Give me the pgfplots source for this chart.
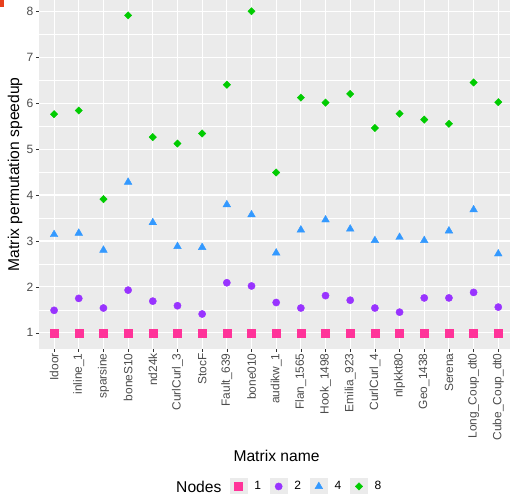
\documentclass[border=0pt]{standalone}
\usepackage{fontspec}
\setmainfont{Liberation Sans}
\usepackage{pgfplots}
\pgfplotsset{compat=1.18}
\definecolor{cA}{HTML}{FF3399}
\definecolor{cB}{HTML}{9933FF}
\definecolor{cC}{HTML}{3399FF}
\definecolor{cD}{HTML}{00CC00}
\definecolor{panel}{HTML}{EBEBEB}
\definecolor{corner}{HTML}{E8401C}
\begin{document}
\begin{tikzpicture}
\begin{axis}[
  name=ax, at={(0,0)}, anchor=south west,
  scale only axis, width=469.8bp, height=348bp,
  xmin=-0.6, xmax=18.475, ymin=0.655, ymax=8.245,
  axis background/.style={fill=panel},
  axis line style={draw=none},
  xtick={0,...,18},
  xticklabels={Idoor,inline\_1,sparsine,boneS10,nd24k,CurlCurl\_3,StocF,Fault\_639,bone010,audikw\_1,Flan\_1565,Hook\_1498,Emilia\_923,CurlCurl\_4,nlpkkt80,Geo\_1438,Serena,Long\_Coup\_dt0,Cube\_Coup\_dt0},
  ytick={1,...,8},
  minor ytick={1.5,2.5,3.5,4.5,5.5,6.5,7.5},
  grid=both,
  major grid style={white, line width=1.1bp},
  minor grid style={white, line width=0.55bp},
  tick align=outside, tick pos=left,
  major tick length=3.3bp, minor tick length=0pt,
  tick style={black!80, line width=0.55bp},
  /pgf/number format/assume math mode=true,
  xticklabel style={rotate=90, anchor=east, inner sep=0pt, text=black!70, font=\fontsize{11.9bp}{13bp}\selectfont},
  yticklabel style={anchor=east, inner sep=0pt, text=black!70, font=\fontsize{12bp}{13bp}\selectfont},
  xticklabel shift=1.2bp,
  yticklabel shift=2.5bp,
  xlabel={Matrix name},
  ylabel={Matrix permutation speedup},
  label style={font=\fontsize{15.6bp}{17bp}\selectfont},
  xlabel style={at={(axis description cs:0.504,-0.3075)}, anchor=center},
  ylabel style={at={(axis description cs:-0.0515,0.5)}, anchor=center, rotate=0},
  legend columns=-1,
  legend style={name=leg, draw=none, fill=none, at={(axis description cs:0.5658,-0.3951)}, anchor=center,
    font=\fontsize{12bp}{13bp}\selectfont, inner sep=0pt,
    nodes={inner sep=0pt},
    /tikz/every odd column/.append style={column sep=7bp},
    /tikz/every even column/.append style={column sep=9bp}},
  legend image code/.code={\fill[panel] (-8.5bp,-8.5bp) rectangle (8.5bp,8.5bp); \draw[#1] plot coordinates {(0bp,0bp)};},
]
\addplot[only marks, mark=square*, mark size=4bp, color=cA] coordinates {
(0,1) (1,1) (2,1) (3,1) (4,1) (5,1) (6,1) (7,1) (8,1) (9,1) (10,1) (11,1) (12,1) (13,1) (14,1) (15,1) (16,1) (17,1) (18,1)};
\addlegendentry{1}
\addplot[only marks, mark=*, mark size=3.6bp, color=cB] coordinates {
(0,1.49) (1,1.75) (2,1.54) (3,1.93) (4,1.69) (5,1.59) (6,1.41) (7,2.09) (8,2.02) (9,1.66) (10,1.54) (11,1.81) (12,1.71) (13,1.54) (14,1.45) (15,1.76) (16,1.76) (17,1.88) (18,1.56)};
\addlegendentry{2}
\addplot[only marks, mark=triangle*, mark size=4.4bp, color=cC] coordinates {
(0,3.14) (1,3.17) (2,2.80) (3,4.28) (4,3.40) (5,2.88) (6,2.86) (7,3.79) (8,3.57) (9,2.74) (10,3.24) (11,3.46) (12,3.26) (13,3.01) (14,3.08) (15,3.01) (16,3.22) (17,3.68) (18,2.72)};
\addlegendentry{4}
\addplot[only marks, mark=square*, mark size=2.6bp, mark options={rotate=45}, color=cD] coordinates {
(0,5.76) (1,5.84) (2,3.91) (3,7.91) (4,5.26) (5,5.12) (6,5.34) (7,6.40) (8,8.00) (9,4.49) (10,6.12) (11,6.01) (12,6.20) (13,5.46) (14,5.77) (15,5.64) (16,5.55) (17,6.45) (18,6.02)};
\addlegendentry{8}
\end{axis}
\node[anchor=east, inner sep=0pt, font=\fontsize{15.6bp}{17bp}\selectfont] at ([xshift=-8bp]leg.west) {Nodes};
\pgfresetboundingbox
\path[use as bounding box] ([xshift=-39.2bp,yshift=-145bp]ax.south west) rectangle (ax.north east);
\fill[corner] ([xshift=-39.2bp]ax.north west) rectangle ++(4bp,-7bp);
\end{tikzpicture}
\end{document}
